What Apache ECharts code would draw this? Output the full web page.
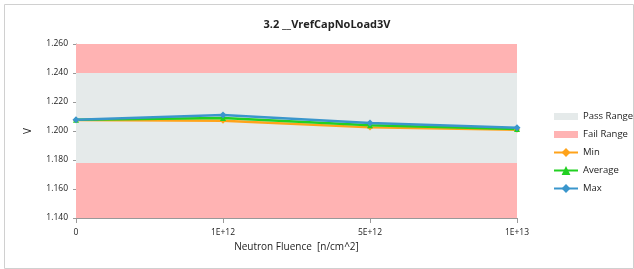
<!DOCTYPE html>
<html>
<head>
    <meta http-equiv="Content-Type" content="text/html; charset=UTF-8">
    <title>VrefCapNoLoad3V</title>
    <script type="text/javascript" src="https://cdn.jsdelivr.net/npm/echarts@6/dist/echarts.min.js"></script>
    <style>
        html, body { margin: 0; padding: 0; background: #fff; }
        #mainA { width: 634px; height: 269px; }
    </style>
</head>
<body>
<div id="mainA"></div>
<script type="text/javascript">
    // x categories (neutron fluence)
    var categories = ['0', '1E+12', '5E+12', '1E+13'];
    // measured values, V
    var minVals = [1.2075, 1.2070, 1.2025, 1.2008];
    var avgVals = [1.2077, 1.2090, 1.2040, 1.2013];
    var maxVals = [1.2078, 1.2110, 1.2055, 1.2022];
    // pass / fail bands
    var passRange = [1.178, 1.240];
    var failRanges = [[1.140, 1.178], [1.240, 1.260]];
    // y axis ticks
    var yMin = 1.140, yMax = 1.260, yStep = 0.020;

    var passColor = '#E5EAEA';
    var failColor = '#FFB3B3';
    var colors = {Min: '#FFA31A', Average: '#22D022', Max: '#3A96CC'};

    var chart = echarts.init(document.getElementById('mainA'));

    function lineSeries(name, vals, symbol, size) {
        return {
            name: name, type: 'line', data: vals,
            symbol: symbol, symbolSize: size,
            lineStyle: {width: 2.5, color: colors[name]},
            itemStyle: {color: colors[name]},
            z: 5
        };
    }

    var failAreas = [];
    for (var i = 0; i < failRanges.length; i++) {
        failAreas.push([{yAxis: failRanges[i][0]}, {yAxis: failRanges[i][1]}]);
    }

    var option = {
        animation: false,
        title: {
            text: '3.2 __VrefCapNoLoad3V',
            left: 322, top: 14, textAlign: 'center',
            textStyle: {fontFamily: 'Open Sans', fontSize: 11, fontWeight: 'bold', color: '#222'}
        },
        graphic: [{
            type: 'rect', left: 2, top: 2, silent: true,
            shape: {width: 629, height: 264},
            style: {fill: 'none', stroke: '#D0D0D0', lineWidth: 1}
        }],
        legend: {
            orient: 'vertical', left: 548, top: 105, itemGap: 5,
            itemWidth: 24, itemHeight: 11,
            textStyle: {fontFamily: 'Open Sans', fontSize: 9.5, color: '#222', lineHeight: 13},
            data: [
                {name: 'Pass Range', icon: 'path://M0,2L24,2L24,9L0,9Z', itemStyle: {color: passColor}},
                {name: 'Fail Range', icon: 'path://M0,2L24,2L24,9L0,9Z', itemStyle: {color: failColor}},
                {name: 'Min'}, {name: 'Average'}, {name: 'Max'}
            ]
        },
        grid: {left: 76, right: 117, top: 44, bottom: 51},
        xAxis: {
            type: 'category', data: categories, boundaryGap: false,
            name: 'Neutron Fluence  [n/cm^2]', nameLocation: 'middle', nameGap: 24,
            nameTextStyle: {fontFamily: 'Open Sans', fontSize: 10, color: '#222'},
            axisLine: {lineStyle: {color: '#999'}},
            axisTick: {show: true, alignWithLabel: true, lineStyle: {color: '#999'}},
            axisLabel: {fontFamily: 'Open Sans', fontSize: 8.5, color: '#222', margin: 10},
            splitLine: {show: false}
        },
        yAxis: {
            type: 'value', min: yMin, max: yMax, interval: yStep,
            name: 'V', nameLocation: 'middle', nameGap: 43, nameRotate: 90,
            nameTextStyle: {fontFamily: 'Open Sans', fontSize: 10, color: '#222'},
            axisLine: {show: true, lineStyle: {color: '#999'}},
            axisTick: {show: true, length: 3, lineStyle: {color: '#999'}},
            axisLabel: {fontFamily: 'Open Sans', fontSize: 8.5, color: '#222', margin: 8,
                formatter: function (v) { return v.toFixed(3); }},
            splitLine: {show: false}
        },
        series: [
            {
                name: 'Pass Range', type: 'line', data: [], itemStyle: {color: passColor},
                markArea: {silent: true, itemStyle: {color: passColor},
                    data: [[{yAxis: passRange[0]}, {yAxis: passRange[1]}]]},
                z: 1
            },
            {
                name: 'Fail Range', type: 'line', data: [], itemStyle: {color: failColor},
                markArea: {silent: true, itemStyle: {color: failColor}, data: failAreas},
                z: 1
            },
            lineSeries('Min', minVals, 'diamond', 6),
            lineSeries('Average', avgVals, 'triangle', 6),
            lineSeries('Max', maxVals, 'diamond', 7)
        ]
    };
    chart.setOption(option);
</script>
</body>
</html>
